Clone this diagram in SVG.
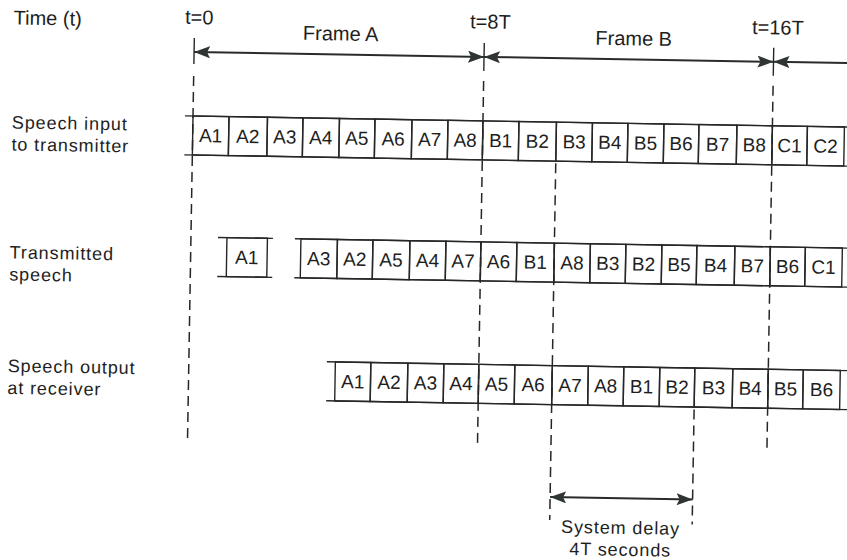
<svg xmlns="http://www.w3.org/2000/svg" width="847" height="560" viewBox="0 0 847 560">
<defs>
<style>
.t{font-family:"Liberation Sans",Arial,sans-serif;font-size:20px;fill:#1e1e1e}
.m{font-family:"Liberation Sans",Arial,sans-serif;font-size:18px;letter-spacing:0.9px;fill:#1e1e1e}
.c{font-family:"Liberation Sans",Arial,sans-serif;font-size:19px;fill:#1e1e1e;text-anchor:middle}
.ln{stroke:#262626;stroke-width:1.4;fill:none}
.cell{stroke:#262626;stroke-width:1.4;fill:none}
.ds{stroke:#262626;stroke-width:1.5;fill:none;stroke-dasharray:10 6}
.ar{stroke:#2a2a2a;stroke-width:2;fill:none;marker-end:url(#ah);marker-start:url(#ah)}
</style>
<marker id="ah" viewBox="0 0 16 12" refX="16" refY="6" markerWidth="16" markerHeight="12" markerUnits="userSpaceOnUse" orient="auto-start-reverse">
<path d="M0,0 L16,6 L0,12 L3,6 z" fill="#2f3530"/>
</marker>
</defs>
<rect width="847" height="560" fill="#ffffff"/>
<g transform="rotate(0.97 193 116)">
<g id="labels">
<text class="t" x="12" y="27.5">Time (t)</text>
<text class="t" x="183.5" y="24">t=0</text>
<text class="t" x="468.5" y="23.5">t=8T</text>
<text class="t" x="750.5" y="24.5">t=16T</text>
<text class="t" x="301.5" y="38">Frame A</text>
<text class="t" x="594" y="38">Frame B</text>
<text class="m" x="12" y="131.5">Speech input</text>
<text class="m" x="12" y="153.5">to transmitter</text>
<text class="m" x="12" y="261.5">Transmitted</text>
<text class="m" x="12" y="283.5">speech</text>
<text class="m" x="12" y="375">Speech output</text>
<text class="m" x="12" y="397">at receiver</text>
<text class="m" x="627.5" y="526.5" text-anchor="middle">System delay</text>
<text class="m" x="627.5" y="548.5" text-anchor="middle">4T seconds</text>
</g>
<g id="connectors">
<line class="ln" x1="193" y1="38" x2="193" y2="64"/>
<line class="ds" x1="193" y1="76" x2="193" y2="440"/>
<line class="ln" x1="483" y1="38" x2="483" y2="66"/>
<line class="ds" x1="483" y1="76" x2="483" y2="442"/>
<line class="ln" x1="772.5" y1="38" x2="772.5" y2="66"/>
<line class="ds" x1="772.5" y1="76" x2="772.5" y2="442"/>
<line class="ds" x1="556.5" y1="157" x2="556.5" y2="514"/>
<line class="ds" x1="699" y1="401" x2="699" y2="516"/>
<line class="ar" x1="193" y1="52" x2="483" y2="52"/>
<line class="ar" x1="483" y1="52" x2="772.5" y2="52"/>
<line stroke="#2a2a2a" stroke-width="2" x1="900" y1="52" x2="772.5" y2="52" marker-end="url(#ah)"/>
<line class="ar" x1="556.5" y1="491" x2="699" y2="491"/>
</g>
<g id="row-input">
<line class="ln" x1="185" y1="116" x2="900" y2="116"/>
<line class="ln" x1="185" y1="155" x2="900" y2="155"/>
<g id="in-A1"><rect class="cell" x="193" y="116" width="36" height="39"/><text class="c" x="211" y="142">A1</text></g>
<g id="in-A2"><rect class="cell" x="229" y="116" width="38.5" height="39"/><text class="c" x="248.2" y="142">A2</text></g>
<g id="in-A3"><rect class="cell" x="267.5" y="116" width="35.5" height="39"/><text class="c" x="285.2" y="142">A3</text></g>
<g id="in-A4"><rect class="cell" x="303" y="116" width="36.5" height="39"/><text class="c" x="321.2" y="142">A4</text></g>
<g id="in-A5"><rect class="cell" x="339.5" y="116" width="35.5" height="39"/><text class="c" x="357.2" y="142">A5</text></g>
<g id="in-A6"><rect class="cell" x="375" y="116" width="37" height="39"/><text class="c" x="393.5" y="142">A6</text></g>
<g id="in-A7"><rect class="cell" x="412" y="116" width="36" height="39"/><text class="c" x="430" y="142">A7</text></g>
<g id="in-A8"><rect class="cell" x="448" y="116" width="35" height="39"/><text class="c" x="465.5" y="142">A8</text></g>
<g id="in-B1"><rect class="cell" x="483" y="116" width="36" height="39"/><text class="c" x="501" y="142">B1</text></g>
<g id="in-B2"><rect class="cell" x="519" y="116" width="37.5" height="39"/><text class="c" x="537.7" y="142">B2</text></g>
<g id="in-B3"><rect class="cell" x="556.5" y="116" width="36" height="39"/><text class="c" x="574.5" y="142">B3</text></g>
<g id="in-B4"><rect class="cell" x="592.5" y="116" width="35.5" height="39"/><text class="c" x="610.2" y="142">B4</text></g>
<g id="in-B5"><rect class="cell" x="628" y="116" width="36" height="39"/><text class="c" x="646" y="142">B5</text></g>
<g id="in-B6"><rect class="cell" x="664" y="116" width="35" height="39"/><text class="c" x="681.5" y="142">B6</text></g>
<g id="in-B7"><rect class="cell" x="699" y="116" width="38" height="39"/><text class="c" x="718" y="142">B7</text></g>
<g id="in-B8"><rect class="cell" x="737" y="116" width="35.5" height="39"/><text class="c" x="754.7" y="142">B8</text></g>
<g id="in-C1"><rect class="cell" x="772.5" y="116" width="35" height="39"/><text class="c" x="790" y="142">C1</text></g>
<g id="in-C2"><rect class="cell" x="807.5" y="116" width="37" height="39"/><text class="c" x="826" y="142">C2</text></g>
</g>
<g id="row-transmitted">
<line class="ln" x1="220" y1="237" x2="275" y2="237"/>
<line class="ln" x1="220" y1="276" x2="275" y2="276"/>
<g id="tx-A1-first"><rect class="cell" x="229" y="237" width="40.5" height="39"/><text class="c" x="249.2" y="263">A1</text></g>
<line class="ln" x1="297" y1="237" x2="900" y2="237"/>
<line class="ln" x1="297" y1="276" x2="900" y2="276"/>
<g id="tx-A3"><rect class="cell" x="303" y="237" width="36.5" height="39"/><text class="c" x="321.2" y="263">A3</text></g>
<g id="tx-A2"><rect class="cell" x="339.5" y="237" width="35.5" height="39"/><text class="c" x="357.2" y="263">A2</text></g>
<g id="tx-A5"><rect class="cell" x="375" y="237" width="37" height="39"/><text class="c" x="393.5" y="263">A5</text></g>
<g id="tx-A4"><rect class="cell" x="412" y="237" width="36" height="39"/><text class="c" x="430" y="263">A4</text></g>
<g id="tx-A7"><rect class="cell" x="448" y="237" width="35" height="39"/><text class="c" x="465.5" y="263">A7</text></g>
<g id="tx-A6"><rect class="cell" x="483" y="237" width="36" height="39"/><text class="c" x="501" y="263">A6</text></g>
<g id="tx-B1"><rect class="cell" x="519" y="237" width="37.5" height="39"/><text class="c" x="537.7" y="263">B1</text></g>
<g id="tx-A8"><rect class="cell" x="556.5" y="237" width="36" height="39"/><text class="c" x="574.5" y="263">A8</text></g>
<g id="tx-B3"><rect class="cell" x="592.5" y="237" width="35.5" height="39"/><text class="c" x="610.2" y="263">B3</text></g>
<g id="tx-B2"><rect class="cell" x="628" y="237" width="36" height="39"/><text class="c" x="646" y="263">B2</text></g>
<g id="tx-B5"><rect class="cell" x="664" y="237" width="35" height="39"/><text class="c" x="681.5" y="263">B5</text></g>
<g id="tx-B4"><rect class="cell" x="699" y="237" width="38" height="39"/><text class="c" x="718" y="263">B4</text></g>
<g id="tx-B7"><rect class="cell" x="737" y="237" width="35.5" height="39"/><text class="c" x="754.7" y="263">B7</text></g>
<g id="tx-B6"><rect class="cell" x="772.5" y="237" width="35" height="39"/><text class="c" x="790" y="263">B6</text></g>
<g id="tx-C1"><rect class="cell" x="807.5" y="237" width="37" height="39"/><text class="c" x="826" y="263">C1</text></g>
</g>
<g id="row-output">
<line class="ln" x1="331" y1="359.5" x2="900" y2="359.5"/>
<line class="ln" x1="331" y1="398.5" x2="900" y2="398.5"/>
<g id="out-A1"><rect class="cell" x="339.5" y="359.5" width="35.5" height="39"/><text class="c" x="357.2" y="385.5">A1</text></g>
<g id="out-A2"><rect class="cell" x="375" y="359.5" width="37" height="39"/><text class="c" x="393.5" y="385.5">A2</text></g>
<g id="out-A3"><rect class="cell" x="412" y="359.5" width="36" height="39"/><text class="c" x="430" y="385.5">A3</text></g>
<g id="out-A4"><rect class="cell" x="448" y="359.5" width="35" height="39"/><text class="c" x="465.5" y="385.5">A4</text></g>
<g id="out-A5"><rect class="cell" x="483" y="359.5" width="36" height="39"/><text class="c" x="501" y="385.5">A5</text></g>
<g id="out-A6"><rect class="cell" x="519" y="359.5" width="37.5" height="39"/><text class="c" x="537.7" y="385.5">A6</text></g>
<g id="out-A7"><rect class="cell" x="556.5" y="359.5" width="36" height="39"/><text class="c" x="574.5" y="385.5">A7</text></g>
<g id="out-A8"><rect class="cell" x="592.5" y="359.5" width="35.5" height="39"/><text class="c" x="610.2" y="385.5">A8</text></g>
<g id="out-B1"><rect class="cell" x="628" y="359.5" width="36" height="39"/><text class="c" x="646" y="385.5">B1</text></g>
<g id="out-B2"><rect class="cell" x="664" y="359.5" width="35" height="39"/><text class="c" x="681.5" y="385.5">B2</text></g>
<g id="out-B3"><rect class="cell" x="699" y="359.5" width="38" height="39"/><text class="c" x="718" y="385.5">B3</text></g>
<g id="out-B4"><rect class="cell" x="737" y="359.5" width="35.5" height="39"/><text class="c" x="754.7" y="385.5">B4</text></g>
<g id="out-B5"><rect class="cell" x="772.5" y="359.5" width="35" height="39"/><text class="c" x="790" y="385.5">B5</text></g>
<g id="out-B6"><rect class="cell" x="807.5" y="359.5" width="37" height="39"/><text class="c" x="826" y="385.5">B6</text></g>
</g>
</g>
</svg>
